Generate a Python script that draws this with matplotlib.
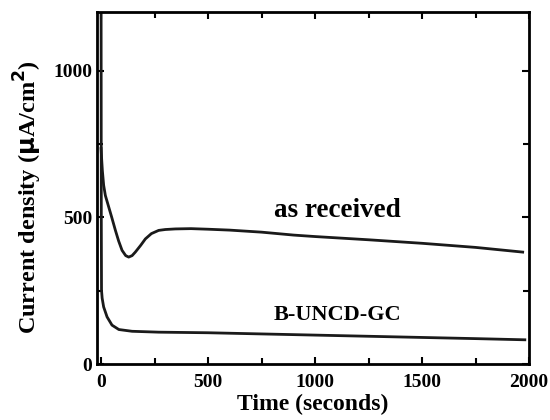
import matplotlib
matplotlib.use('Agg')
import matplotlib.pyplot as plt
from matplotlib.ticker import MultipleLocator

# as received electrode
t_asrec = [0, 3, 6, 12, 20, 36, 50, 67, 82, 98, 115, 129, 145, 160, 185, 207, 235,
           269, 300, 347, 420, 500, 600, 750, 900, 1000, 1250, 1500, 1750, 1970]
y_asrec = [735, 695, 660, 610, 575, 535, 500, 456, 420, 388, 370, 365, 370, 382, 405,
           427, 445, 456, 459, 461, 462, 460, 457, 450, 440, 435, 424, 412, 398, 382]

# B-UNCD-GC electrode
t_buncd = [0, 1, 2, 5, 12, 28, 51, 83, 145, 270, 500, 750, 1000,
           1250, 1500, 1750, 1980]
y_buncd = [1300, 500, 252, 225, 195, 161, 133, 118, 112, 109, 107,
           103, 99, 95, 91, 87, 83]

plt.rcParams['font.family'] = ['Liberation Serif', 'DejaVu Serif']
plt.rcParams['font.weight'] = 'bold'

fig = plt.figure(figsize=(5.5, 4.2), dpi=100)
ax = fig.add_axes([0.176, 0.133, 0.786, 0.838])

ax.plot(t_asrec, y_asrec, color='#1a1a1a', lw=2)
ax.plot(t_buncd, y_buncd, color='#1a1a1a', lw=2)

ax.text(1105, 523, 'as received', fontsize=19.5, fontweight='bold', ha='center', va='center')
ax.text(1105, 167, 'B-UNCD-GC', fontsize=16, fontweight='bold', ha='center', va='center')

ax.set_xlim(-20, 2000)
ax.set_ylim(0, 1200)
ax.xaxis.set_major_locator(MultipleLocator(500))
ax.xaxis.set_minor_locator(MultipleLocator(250))
ax.yaxis.set_major_locator(MultipleLocator(500))
ax.yaxis.set_minor_locator(MultipleLocator(250))
ax.tick_params(which='both', direction='in', top=True, right=True, width=1.5, labelsize=14)
ax.tick_params(which='major', length=5)
ax.tick_params(which='minor', length=4)
ax.tick_params(axis='x', pad=7)
for lab in ax.get_xticklabels() + ax.get_yticklabels():
    lab.set_fontweight('bold')
for s in ax.spines.values():
    s.set_linewidth(2)

ax.set_xlabel('Time (seconds)', fontsize=17, fontweight='bold', labelpad=2)
ax.set_ylabel(r'Current density ($\mathbf{\mu}$A/cm$^\mathbf{2}$)', fontsize=17.5,
              fontweight='bold')
ax.yaxis.set_label_coords(-0.123, 0.474)

fig.savefig('out.png', dpi=100)
